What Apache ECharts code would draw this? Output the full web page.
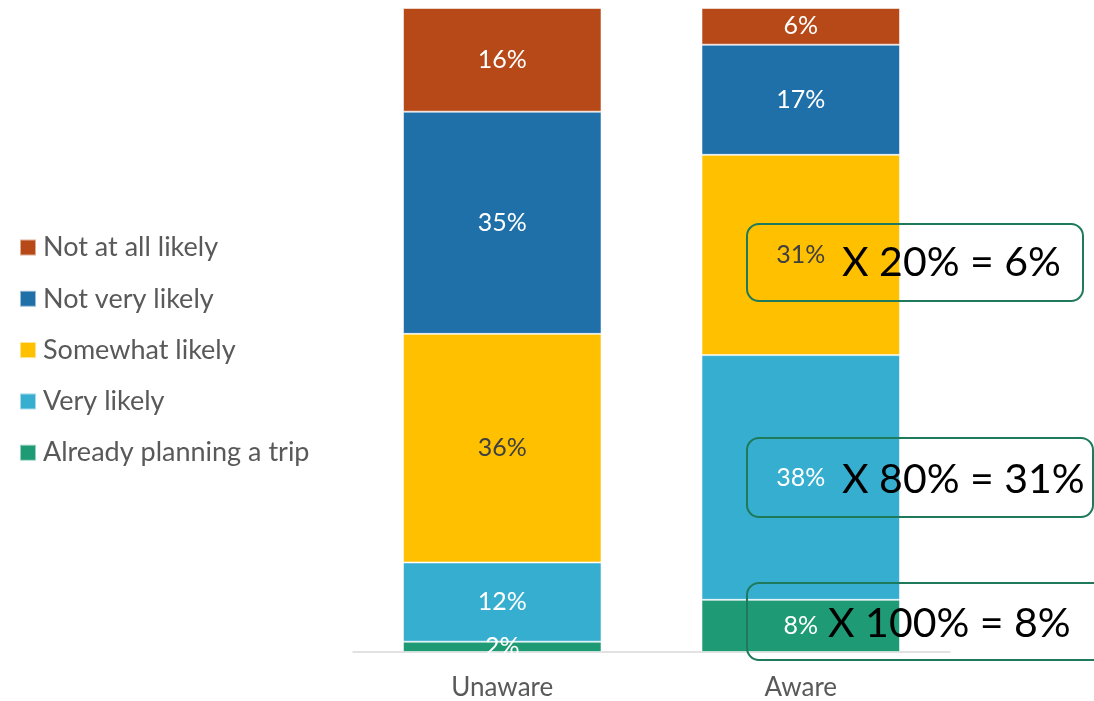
<!DOCTYPE html>
<html>
<head>
<meta charset="utf-8">
<script src="https://cdn.jsdelivr.net/npm/echarts@6/dist/echarts.min.js"></script>
<style>html,body{margin:0;padding:0;background:#fff;}#c{width:1094px;height:701px;}</style>
</head>
<body>
<div id="c"></div>
<script>
var categories = ['Unaware', 'Aware'];
var seriesNames = ['Already planning a trip', 'Very likely', 'Somewhat likely', 'Not very likely', 'Not at all likely'];
var alreadyPlanning = [1.6, 8.1];
var veryLikely = [12.3, 38.0];
var somewhatLikely = [35.5, 31.1];
var notVeryLikely = [34.5, 17.1];
var notAtAllLikely = [16.1, 5.7];
var colors = ['#1E9A74', '#36AECF', '#FFC000', '#1F6FA9', '#B74918'];
var labelColors = ['#ffffff', '#ffffff', '#404040', '#ffffff', '#ffffff'];
var annotations = ['X 100% = 8%', 'X 80% = 31%', 'X 20% = 6%'];

var FONT = 'Lato, "Open Sans", sans-serif';
var all = [alreadyPlanning, veryLikely, somewhatLikely, notVeryLikely, notAtAllLikely];
var series = all.map(function (vals, i) {
  return {
    name: seriesNames[i],
    type: 'bar',
    stack: 'total',
    barWidth: '66.5%',
    itemStyle: { color: colors[i], borderColor: 'rgba(255,255,255,0.55)', borderWidth: 1 },
    label: {
      show: true,
      position: 'inside',
      color: labelColors[i],
      fontFamily: FONT,
      fontSize: 25,
      formatter: function (p) { return Math.round(p.value) + '%'; }
    },
    data: vals
  };
});

var chart = echarts.init(document.getElementById('c'));
chart.setOption({
  animation: false,
  color: colors,
  grid: { left: 353, right: 144, top: 8, bottom: 49, containLabel: false },
  legend: {
    orient: 'vertical',
    left: 19,
    top: 234,
    padding: 0,
    itemWidth: 16,
    itemHeight: 16,
    itemGap: 24.3,
    icon: 'rect',
    data: seriesNames.slice().reverse(),
    textStyle: { fontFamily: FONT, fontSize: 27, color: '#595959', lineHeight: 26, padding: [0, 0, 0, 2] }
  },
  xAxis: {
    type: 'category',
    data: categories,
    axisLine: { lineStyle: { color: '#D9D9D9', width: 1.5 } },
    axisTick: { show: false },
    axisLabel: { fontFamily: FONT, fontSize: 26, color: '#595959', margin: 23 }
  },
  yAxis: { type: 'value', min: 0, max: 100, show: false, splitLine: { show: false } },
  series: series,
  graphic: [
    { type: 'rect', shape: { x: 747, y: 583, width: 360, height: 77, r: 12 }, style: { fill: 'none', stroke: '#1F7A5C', lineWidth: 2 }, z: 100 },
    { type: 'rect', shape: { x: 747, y: 438, width: 346, height: 79, r: 12 }, style: { fill: 'none', stroke: '#1F7A5C', lineWidth: 2 }, z: 100 },
    { type: 'rect', shape: { x: 747, y: 224, width: 336, height: 77, r: 12 }, style: { fill: 'none', stroke: '#1F7A5C', lineWidth: 2 }, z: 100 },
    { type: 'text', left: 828, top: 603, style: { text: annotations[0], font: '41px ' + FONT, fill: '#000' }, z: 100 },
    { type: 'text', left: 842, top: 459, style: { text: annotations[1], font: '41px ' + FONT, fill: '#000' }, z: 100 },
    { type: 'text', left: 842, top: 242, style: { text: annotations[2], font: '41px ' + FONT, fill: '#000' }, z: 100 }
  ]
});
</script>
</body>
</html>
